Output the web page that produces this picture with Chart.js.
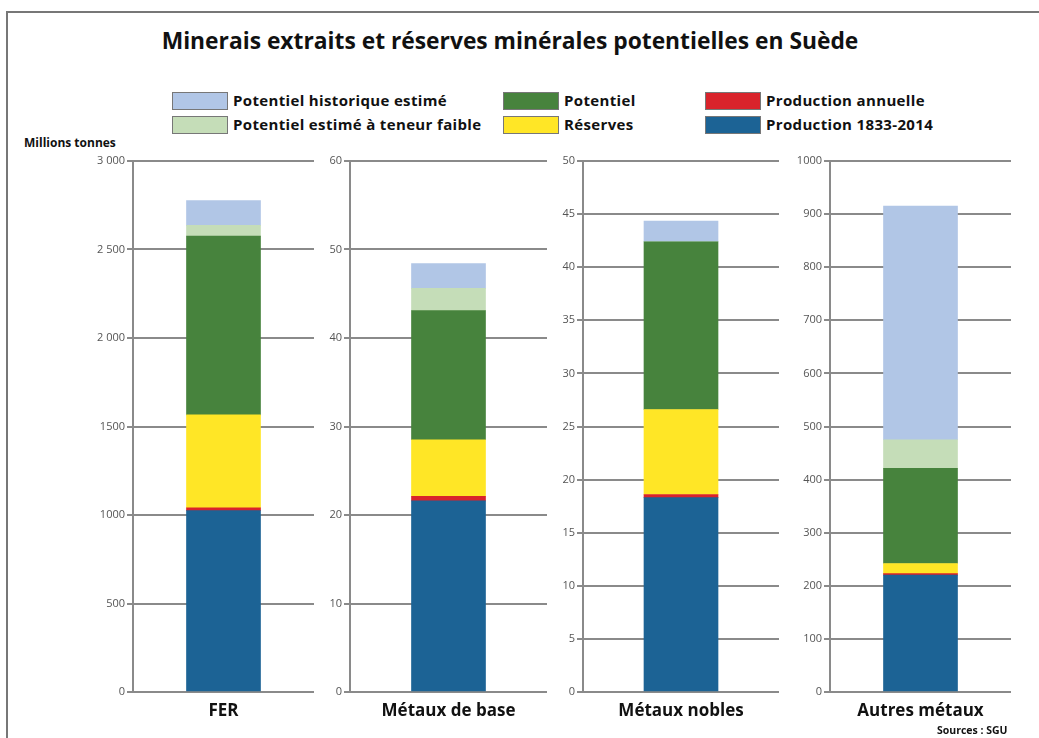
<!DOCTYPE html>
<html>
<head>
<meta charset="utf-8">
<script src="https://cdn.jsdelivr.net/npm/chart.js"></script>
<style>
    body { margin: 0; background: #fff; width: 1039px; height: 738px; overflow: hidden; position: relative; font-family: "Open Sans", sans-serif; }
    .frame { position: absolute; left: 6px; top: 11px; width: 1100px; height: 800px; border-left: 2px solid #777; border-top: 2px solid #777; }
    .title { position: absolute; left: 0; width: 1020px; top: 25px; text-align: center; font-family: "Open Sans", sans-serif; font-weight: 700; font-size: 22.8px; color: #111; }
    .leg { position: absolute; font-family: "Open Sans", sans-serif; font-weight: 700; font-size: 15px; letter-spacing: 0.35px; color: #111; line-height: 18px; white-space: nowrap; }
    .leg i { position: absolute; left: 0; top: 0; width: 54px; height: 16px; border: 1px solid #777; }
    .leg em { position: absolute; left: 61px; top: -1px; font-style: normal; font-weight: 700; }
    .unit { position: absolute; left: 24px; top: 134px; font-weight: 700; font-size: 12px; color: #111; }
    .src { position: absolute; left: 937px; top: 723px; font-weight: 700; font-size: 10.5px; color: #111; }
    canvas { position: absolute; top: 150px; }
</style>
</head>
<body>
<div class="frame"></div>
<div class="title">Minerais extraits et réserves minérales potentielles en Suède</div>
<div id="legend"></div>
<div class="unit">Millions tonnes</div>
<canvas id="c0" width="251" height="580" style="left:63px"></canvas>
<canvas id="c1" width="267" height="580" style="left:280px"></canvas>
<canvas id="c2" width="266" height="580" style="left:513px"></canvas>
<canvas id="c3" width="251" height="580" style="left:760px"></canvas>
<div class="src">Sources : SGU</div>
<script>
var categories = ['FER', 'Métaux de base', 'Métaux nobles', 'Autres métaux'];

// millions de tonnes
var production = [1025, 21.6, 18.3, 220];
var productionAnnuelle = [16, 0.5, 0.3, 3];
var reserves = [525, 6.4, 8.0, 19];
var potentiel = [1010, 14.6, 15.8, 179];
var teneurFaible = [60, 2.5, 0, 54];
var historique = [140, 2.8, 1.95, 440];

var axisMax = [3000, 60, 50, 1000];
var axisStep = [500, 10, 5, 100];

var series = [
    { label: 'Production 1833-2014', data: production, color: '#1c6395' },
    { label: 'Production annuelle', data: productionAnnuelle, color: '#d9232b' },
    { label: 'Réserves', data: reserves, color: '#ffe626' },
    { label: 'Potentiel', data: potentiel, color: '#47833d' },
    { label: 'Potentiel estimé à teneur faible', data: teneurFaible, color: '#c5ddb8' },
    { label: 'Potentiel historique estimé', data: historique, color: '#b1c6e6' }
];

// legende en html (3 colonnes x 2 lignes)
var legendPos = [
    { s: 5, x: 172, y: 92 }, { s: 4, x: 172, y: 116 },
    { s: 3, x: 503, y: 92 }, { s: 2, x: 503, y: 116 },
    { s: 1, x: 705, y: 92 }, { s: 0, x: 705, y: 116 }
];
var legendHtml = '';
legendPos.forEach(function(p) {
    var s = series[p.s];
    legendHtml += '<div class="leg" style="left:' + p.x + 'px;top:' + p.y + 'px">' +
        '<i style="background:' + s.color + '"></i><em>' + s.label + '</em></div>';
});
document.getElementById('legend').innerHTML = legendHtml;

function formatTick(value) {
    if (value >= 2000) {
        return String(value).replace(/(\d)(\d{3})$/, '$1 $2');
    }
    return String(value);
}

function drawPanel(i) {
    var ctx = document.getElementById('c' + i).getContext('2d');
    var datasets = series.map(function(s) {
        return {
            label: s.label,
            data: [s.data[i]],
            backgroundColor: s.color,
            borderWidth: 0,
            barThickness: 74
        };
    });

    new Chart(ctx, {
        type: 'bar',
        data: { labels: [categories[i]], datasets: datasets },
        options: {
            responsive: false,
            animation: false,
            layout: { padding: { top: 11, right: 0, bottom: 0, left: 0 } },
            plugins: { legend: { display: false }, tooltip: { enabled: false } },
            scales: {
                x: {
                    stacked: true,
                    grid: { display: false, drawTicks: false },
                    border: { display: true, color: '#8a8a8a', width: 2 },
                    ticks: {
                        padding: 9,
                        color: '#111',
                        font: { family: 'Open Sans', weight: 'bold', size: 17 }
                    },
                    afterFit: function(scale) { scale.height = 38; }
                },
                y: {
                    stacked: true,
                    min: 0,
                    max: axisMax[i],
                    grid: { color: '#8a8a8a', lineWidth: 2, tickLength: 6 },
                    border: { display: true, color: '#8a8a8a', width: 2 },
                    ticks: {
                        stepSize: axisStep[i],
                        padding: 2,
                        color: '#555',
                        font: { family: 'Open Sans', size: 11 },
                        callback: function(v) { return formatTick(v); }
                    },
                    afterFit: function(scale) { scale.width = 70; }
                }
            }
        }
    });
}

for (var i = 0; i < categories.length; i++) {
    drawPanel(i);
}
</script>
</body>
</html>
